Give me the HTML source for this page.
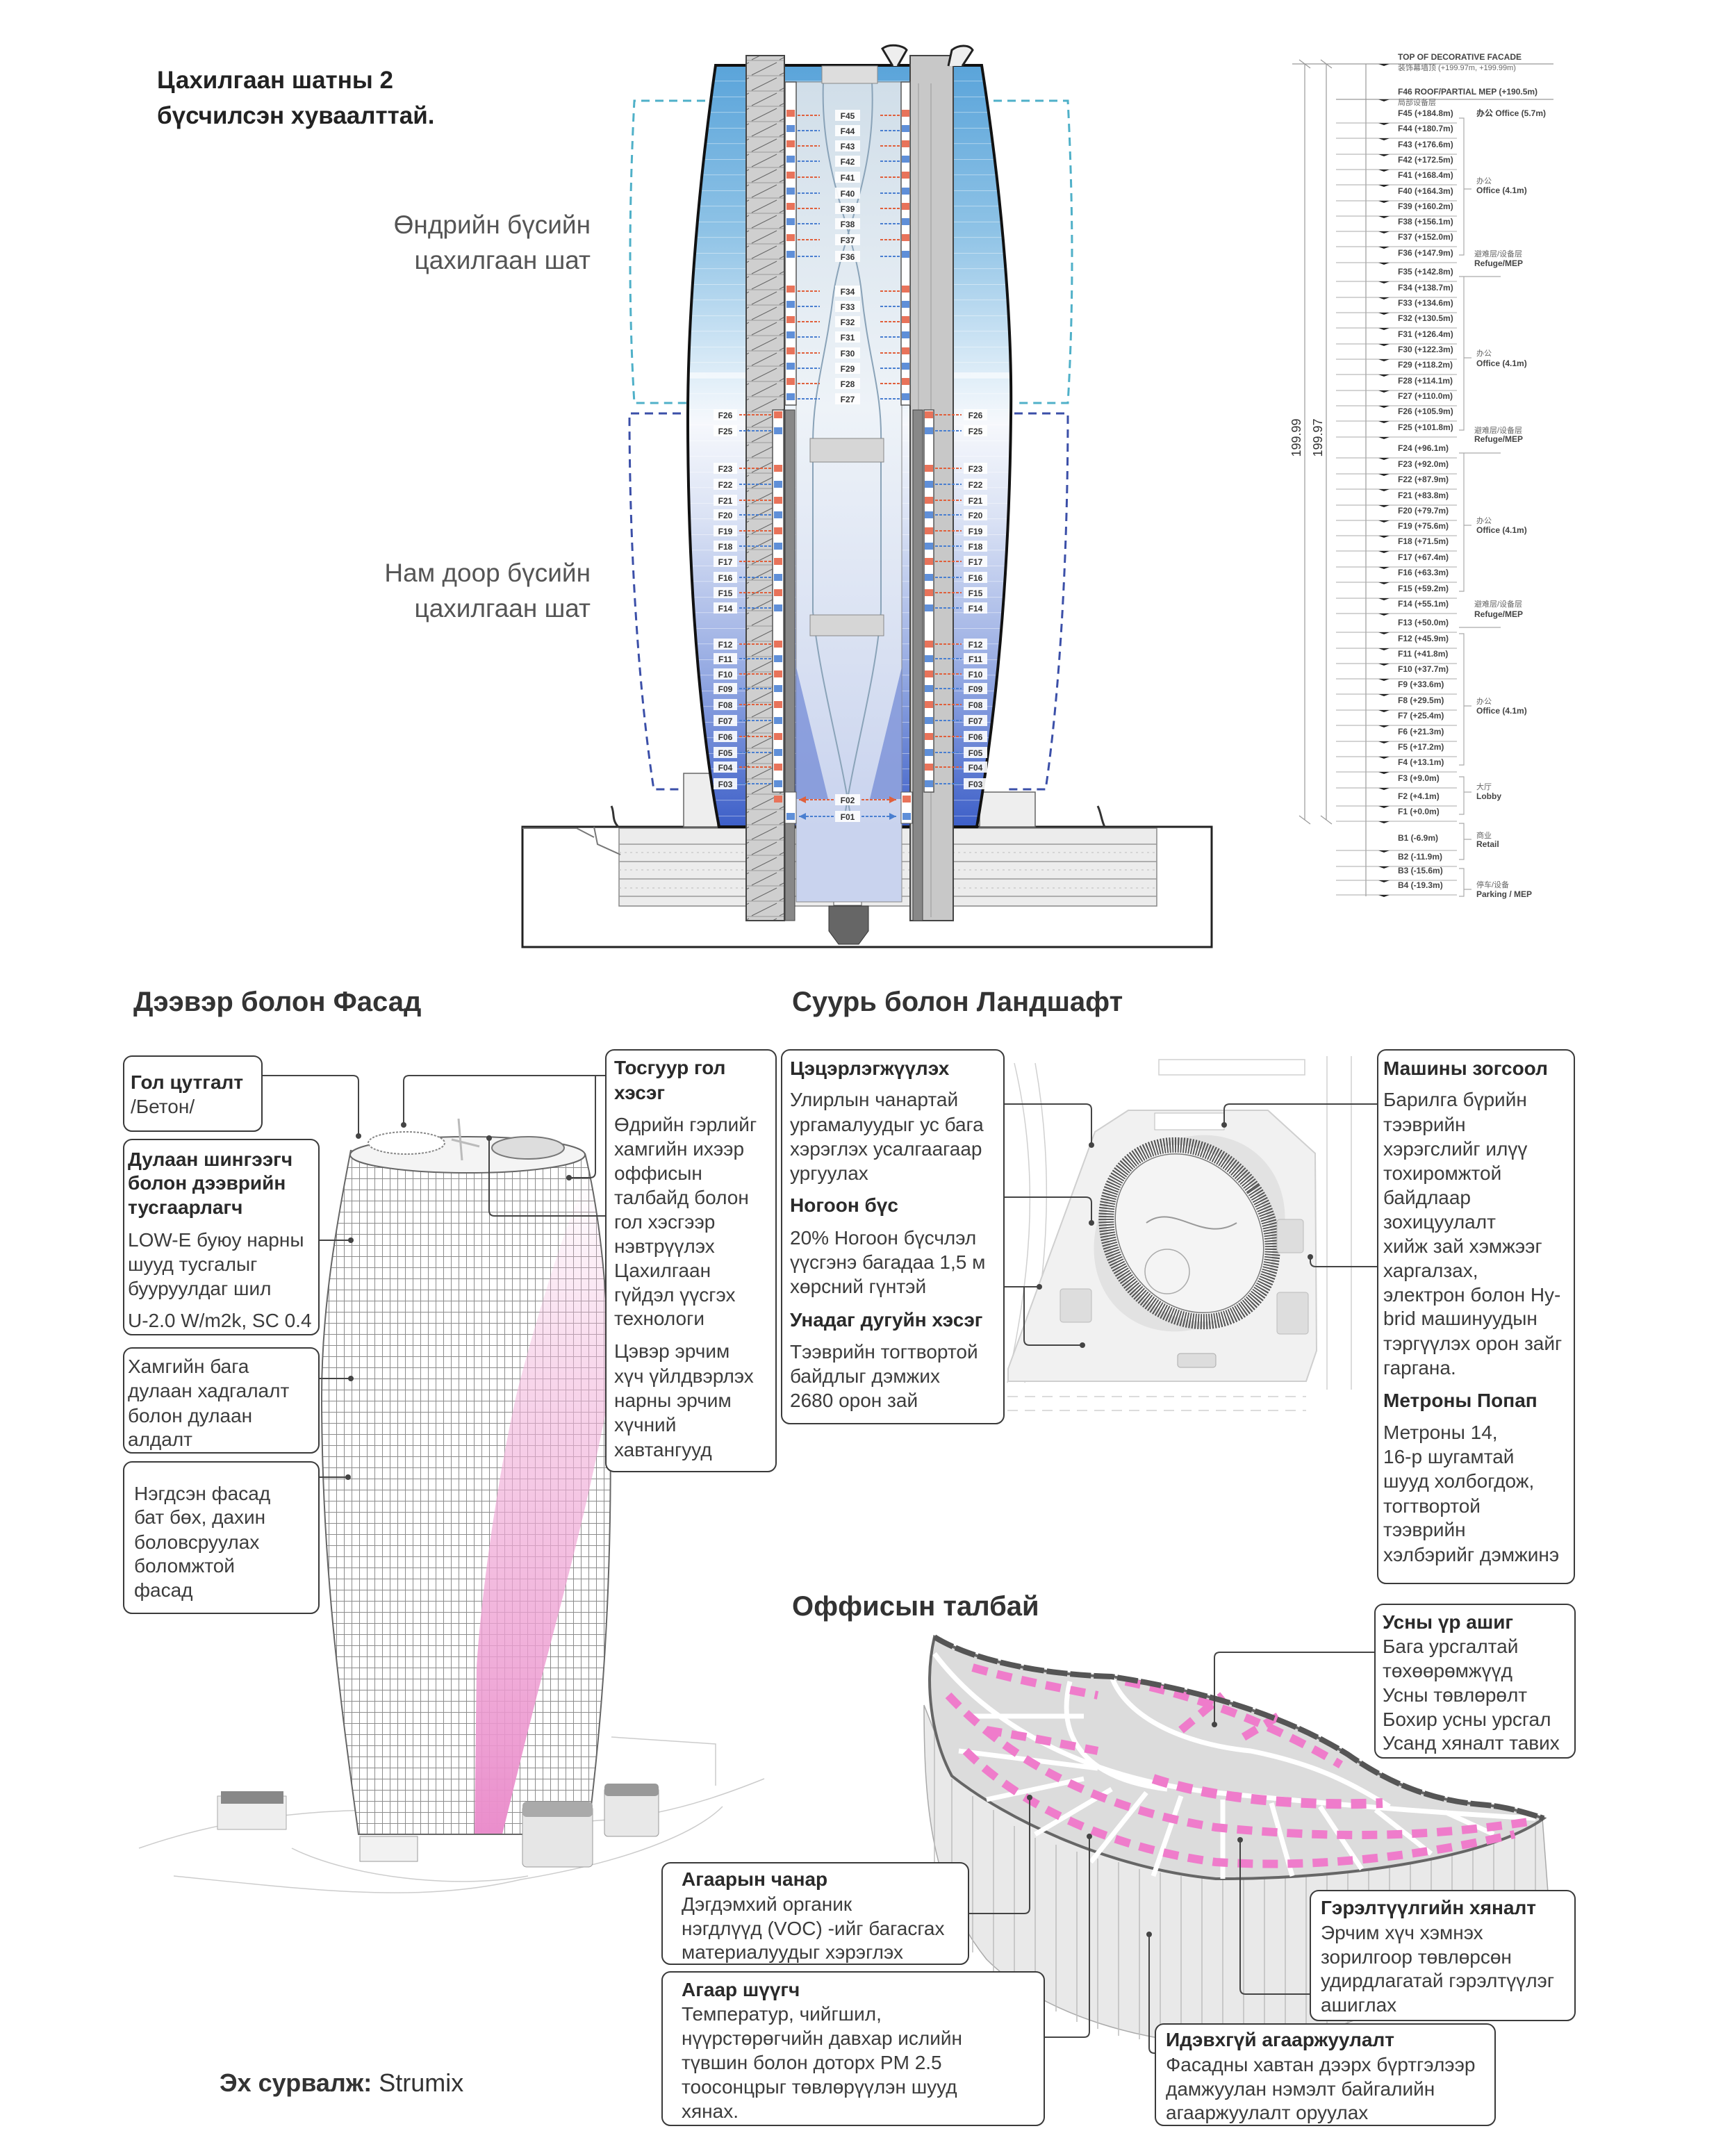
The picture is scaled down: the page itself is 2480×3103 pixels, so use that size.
<!DOCTYPE html>
<html><head><meta charset="utf-8">
<style>
html,body{margin:0;padding:0;background:#fff;}
svg{display:block;}
text{font-family:"Liberation Sans","Noto Sans CJK SC",sans-serif;}
.t{font-size:28px;fill:#3c3c3c;}
.b{font-size:28px;fill:#2a2a2a;font-weight:bold;}
.h{font-size:40px;fill:#333;font-weight:bold;}
.box{fill:#fff;stroke:#3a3a3a;stroke-width:2;}
.cn{fill:none;stroke:#444;stroke-width:2;}
.el{font-size:12px;font-weight:bold;fill:#444;}
.ec{font-size:11px;fill:#666;}
.lb{font-size:12px;font-weight:bold;fill:#333;text-anchor:middle;}
</style></head>
<body>
<svg width="2480" height="3103" viewBox="0 0 2480 3103" xmlns="http://www.w3.org/2000/svg">
<defs>
<linearGradient id="glass" x1="0" y1="94" x2="0" y2="1190" gradientUnits="userSpaceOnUse">
<stop offset="0" stop-color="#5aa4da"/>
<stop offset="0.22" stop-color="#8fc3e6"/>
<stop offset="0.42" stop-color="#e4f0f9"/>
<stop offset="0.47" stop-color="#f6f8fc"/>
<stop offset="0.6" stop-color="#d9e1f4"/>
<stop offset="0.8" stop-color="#94a9e2"/>
<stop offset="1" stop-color="#3d5fc8"/>
</linearGradient>
<linearGradient id="atr" x1="0" y1="94" x2="0" y2="1190" gradientUnits="userSpaceOnUse">
<stop offset="0" stop-color="#cfdde8"/>
<stop offset="0.45" stop-color="#eef3f8"/>
<stop offset="1" stop-color="#c9d3ee"/>
</linearGradient>
<linearGradient id="pink" x1="0" y1="1690" x2="0" y2="2650" gradientUnits="userSpaceOnUse">
<stop offset="0" stop-color="#f3b8dc" stop-opacity="0"/>
<stop offset="0.3" stop-color="#f2b6db" stop-opacity="0.55"/>
<stop offset="1" stop-color="#ea8ccb"/>
</linearGradient>
<pattern id="grid" x="0" y="0" width="11" height="16" patternUnits="userSpaceOnUse">
<rect width="11" height="16" fill="#fff"/>
<path d="M0 0.5H11M0.5 0V16" stroke="#8c8c8c" stroke-width="1"/>
</pattern>
<pattern id="stair" x="0" y="0" width="40" height="22" patternUnits="userSpaceOnUse">
<rect width="40" height="22" fill="#cfcfcf"/>
<path d="M2 20L38 2" stroke="#666" stroke-width="1"/>
<path d="M0 21H40" stroke="#999" stroke-width="1"/>
</pattern>
<pattern id="floors" x="0" y="4" width="10" height="22.5" patternUnits="userSpaceOnUse">
<path d="M0 0H10" stroke="#ffffff" stroke-opacity="0.7" stroke-width="1.2"/>
</pattern>
<clipPath id="tclip"><path d="M1030,94 L1413,94 C1445,300 1457,480 1455,600 C1452,880 1425,1080 1406,1190 L1035,1190 C1014,1080 990,880 990,600 C990,470 1002,290 1030,94 Z"/></clipPath>
<clipPath id="t3"><path d="M505,1655 C485,1760 463,1880 463,2010 C463,2250 490,2450 516,2640 L846,2640 C870,2450 882,2250 878,2010 C875,1860 864,1750 842,1660 Z"/></clipPath>
</defs>

<text x="226" y="127" style="font-size:35px;font-weight:bold;fill:#222">Цахилгаан шатны 2</text>
<text x="226" y="178" style="font-size:35px;font-weight:bold;fill:#222">бүсчилсэн хуваалттай.</text>
<text x="850" y="336" text-anchor="end" style="font-size:37px;fill:#555">Өндрийн бүсийн</text>
<text x="850" y="387" text-anchor="end" style="font-size:37px;fill:#555">цахилгаан шат</text>
<text x="850" y="837" text-anchor="end" style="font-size:37px;fill:#555">Нам доор бүсийн</text>
<text x="850" y="888" text-anchor="end" style="font-size:37px;fill:#555">цахилгаан шат</text>

<path d="M1015,145 H913 C905,300 905,450 913,580 H990" fill="none" stroke="#4fb0c8" stroke-width="3" stroke-dasharray="12 8"/>
<path d="M1430,145 H1537 C1545,300 1545,450 1537,580 H1460" fill="none" stroke="#4fb0c8" stroke-width="3" stroke-dasharray="12 8"/>
<path d="M980,595 H906 C906,800 920,1000 941,1136 H990" fill="none" stroke="#3b4fa8" stroke-width="3" stroke-dasharray="12 8"/>
<path d="M1460,595 H1537 C1537,800 1525,1000 1505,1136 H1450" fill="none" stroke="#3b4fa8" stroke-width="3" stroke-dasharray="12 8"/>

<rect x="752" y="1190" width="992" height="173" fill="#fff" stroke="#222" stroke-width="3"/>
<rect x="891" y="1192" width="774" height="112" fill="#ececec" stroke="#888" stroke-width="1.5"/>
<path d="M891,1215H1665M891,1240H1665M891,1265H1665M891,1290H1665" stroke="#999" stroke-width="1.5"/>
<path d="M891,1227H1665M891,1252H1665M891,1278H1665" stroke="#bbb" stroke-width="1" stroke-dasharray="3 5"/>
<path d="M855,1190 L860,1215 L893,1230 M752,1192 L830,1192 L855,1205" stroke="#777" fill="none" stroke-width="2"/>
<path d="M880,1160 C885,1170 880,1180 890,1190 M1580,1160 C1585,1170 1585,1180 1590,1190" stroke="#333" fill="none" stroke-width="3"/>
<rect x="984" y="1113" width="49" height="77" fill="#eee" stroke="#666" stroke-width="1.5"/>
<rect x="1410" y="1140" width="80" height="50" fill="#eee" stroke="#666" stroke-width="1.5"/>
<polygon points="1193,1304 1250,1304 1250,1340 1236,1359 1207,1359 1193,1340" fill="#666" stroke="#333"/>
<rect x="1200" y="1275" width="40" height="28" fill="#fff" stroke="#555"/>

<path d="M1030,94 L1413,94 C1445,300 1457,480 1455,600 C1452,880 1425,1080 1406,1190 L1035,1190 C1014,1080 990,880 990,600 C990,470 1002,290 1030,94 Z" fill="url(#glass)"/>
<g clip-path="url(#tclip)">
<rect x="980" y="94" width="490" height="1100" fill="url(#floors)"/>
<path d="M990,540 H1460" stroke="#fff" stroke-width="8" opacity="0.6"/>
</g>
<path d="M1030,94 L1413,94 C1445,300 1457,480 1455,600 C1452,880 1425,1080 1406,1190 L1035,1190 C1014,1080 990,880 990,600 C990,470 1002,290 1030,94 Z" fill="none" stroke="#111" stroke-width="4"/>

<rect x="1146" y="118" width="152" height="1180" fill="url(#atr)" stroke="#888" stroke-width="1"/>
<path d="M1185,118 C1180,250 1230,330 1240,420 C1250,520 1270,560 1268,640 L1268,880 C1260,980 1230,1080 1215,1180 M1255,118 C1262,250 1215,330 1200,420 C1188,520 1170,560 1170,640 L1170,880 C1180,980 1210,1080 1225,1180" fill="none" stroke="#8aa3b8" stroke-width="2"/>
<polygon points="1146,960 1192,1150 1146,1150" fill="#6e86d4" opacity="0.7"/>
<polygon points="1298,960 1252,1150 1298,1150" fill="#6e86d4" opacity="0.7"/>
<rect x="1166" y="631" width="106" height="34" fill="#d6d6d6" stroke="#888"/>
<rect x="1166" y="885" width="106" height="30" fill="#d6d6d6" stroke="#888"/>
<rect x="1183" y="95" width="80" height="25" fill="#ddd" stroke="#888"/>

<rect x="1074" y="80" width="55" height="1245" fill="url(#stair)" stroke="#444" stroke-width="2"/>
<rect x="1310" y="80" width="62" height="1245" fill="#c8c8c8" stroke="#444" stroke-width="2"/>
<path d="M1322,120V1320 M1340,120V1320" stroke="#999" stroke-width="1"/>
<rect x="1130" y="118" width="16" height="465" fill="#fff" stroke="#555" stroke-width="1.5"/>
<rect x="1297" y="118" width="13" height="465" fill="#fff" stroke="#555" stroke-width="1.5"/>
<rect x="1112" y="590" width="16" height="550" fill="#fff" stroke="#555" stroke-width="1.5"/>
<rect x="1130" y="590" width="14" height="735" fill="#888" stroke="#444" stroke-width="1"/>
<rect x="1314" y="590" width="14" height="735" fill="#888" stroke="#444" stroke-width="1"/>
<rect x="1330" y="590" width="14" height="550" fill="#fff" stroke="#555" stroke-width="1.5"/>
<rect x="1130" y="1140" width="16" height="45" fill="#fff" stroke="#555"/>
<rect x="1297" y="1140" width="16" height="45" fill="#fff" stroke="#555"/>
<path d="M1285,95 L1270,70 C1280,62 1300,65 1305,72 L1292,95 M1365,95 L1370,72 C1380,64 1395,64 1400,72 L1385,95" fill="#eee" stroke="#222" stroke-width="3"/>

<g fill="#e8735a"><rect x="1132" y="158" width="12" height="10"/><rect x="1132" y="202" width="12" height="10"/><rect x="1132" y="247" width="12" height="10"/><rect x="1132" y="292" width="12" height="10"/><rect x="1132" y="337" width="12" height="10"/><rect x="1132" y="411" width="12" height="10"/><rect x="1132" y="455" width="12" height="10"/><rect x="1132" y="500" width="12" height="10"/><rect x="1132" y="544" width="12" height="10"/>
<rect x="1298" y="158" width="11" height="10"/><rect x="1298" y="202" width="11" height="10"/><rect x="1298" y="247" width="11" height="10"/><rect x="1298" y="292" width="11" height="10"/><rect x="1298" y="337" width="11" height="10"/><rect x="1298" y="411" width="11" height="10"/><rect x="1298" y="455" width="11" height="10"/><rect x="1298" y="500" width="11" height="10"/><rect x="1298" y="544" width="11" height="10"/></g>
<g fill="#5f8fd8"><rect x="1132" y="180" width="12" height="10"/><rect x="1132" y="224" width="12" height="10"/><rect x="1132" y="270" width="12" height="10"/><rect x="1132" y="314" width="12" height="10"/><rect x="1132" y="361" width="12" height="10"/><rect x="1132" y="433" width="12" height="10"/><rect x="1132" y="477" width="12" height="10"/><rect x="1132" y="522" width="12" height="10"/><rect x="1132" y="566" width="12" height="10"/>
<rect x="1298" y="180" width="11" height="10"/><rect x="1298" y="224" width="11" height="10"/><rect x="1298" y="270" width="11" height="10"/><rect x="1298" y="314" width="11" height="10"/><rect x="1298" y="361" width="11" height="10"/><rect x="1298" y="433" width="11" height="10"/><rect x="1298" y="477" width="11" height="10"/><rect x="1298" y="522" width="11" height="10"/><rect x="1298" y="566" width="11" height="10"/></g>
<g fill="#e8735a">
<rect x="1114" y="592" width="12" height="10"/><rect x="1114" y="669" width="12" height="10"/><rect x="1114" y="715" width="12" height="10"/><rect x="1114" y="759" width="12" height="10"/><rect x="1114" y="803" width="12" height="10"/><rect x="1114" y="848" width="12" height="10"/><rect x="1114" y="922" width="12" height="10"/><rect x="1114" y="965" width="12" height="10"/><rect x="1114" y="1009" width="12" height="10"/><rect x="1114" y="1055" width="12" height="10"/><rect x="1114" y="1099" width="12" height="10"/><rect x="1114" y="1145" width="12" height="10"/>
<rect x="1331" y="592" width="12" height="10"/><rect x="1331" y="669" width="12" height="10"/><rect x="1331" y="715" width="12" height="10"/><rect x="1331" y="759" width="12" height="10"/><rect x="1331" y="803" width="12" height="10"/><rect x="1331" y="848" width="12" height="10"/><rect x="1331" y="922" width="12" height="10"/><rect x="1331" y="965" width="12" height="10"/><rect x="1331" y="1009" width="12" height="10"/><rect x="1331" y="1055" width="12" height="10"/><rect x="1331" y="1099" width="12" height="10"/><rect x="1299" y="1145" width="12" height="10"/>
</g>
<g fill="#5f8fd8">
<rect x="1114" y="615" width="12" height="10"/><rect x="1114" y="692" width="12" height="10"/><rect x="1114" y="736" width="12" height="10"/><rect x="1114" y="781" width="12" height="10"/><rect x="1114" y="826" width="12" height="10"/><rect x="1114" y="870" width="12" height="10"/><rect x="1114" y="943" width="12" height="10"/><rect x="1114" y="986" width="12" height="10"/><rect x="1114" y="1032" width="12" height="10"/><rect x="1114" y="1078" width="12" height="10"/><rect x="1114" y="1123" width="12" height="10"/><rect x="1132" y="1170" width="12" height="10"/>
<rect x="1331" y="615" width="12" height="10"/><rect x="1331" y="692" width="12" height="10"/><rect x="1331" y="736" width="12" height="10"/><rect x="1331" y="781" width="12" height="10"/><rect x="1331" y="826" width="12" height="10"/><rect x="1331" y="870" width="12" height="10"/><rect x="1331" y="943" width="12" height="10"/><rect x="1331" y="986" width="12" height="10"/><rect x="1331" y="1032" width="12" height="10"/><rect x="1331" y="1078" width="12" height="10"/><rect x="1331" y="1123" width="12" height="10"/><rect x="1299" y="1170" width="12" height="10"/>
</g>

<g stroke-width="2" stroke-dasharray="4 2" fill="none">
<path stroke="#e0603c" d="M1148,166H1180M1148,210H1180M1148,255H1180M1148,300H1180M1148,345H1180M1148,419H1180M1148,463H1180M1148,508H1180M1148,552H1180 M1295,166H1265M1295,210H1265M1295,255H1265M1295,300H1265M1295,345H1265M1295,419H1265M1295,463H1265M1295,508H1265M1295,552H1265"/>
<path stroke="#4a7fd0" d="M1148,188H1180M1148,232H1180M1148,278H1180M1148,322H1180M1148,369H1180M1148,441H1180M1148,485H1180M1148,530H1180M1148,574H1180 M1295,188H1265M1295,232H1265M1295,278H1265M1295,322H1265M1295,369H1265M1295,441H1265M1295,485H1265M1295,530H1265M1295,574H1265"/>
<path stroke="#e0603c" d="M1110,597H1064M1110,674H1064M1110,720H1064M1110,764H1064M1110,808H1064M1110,853H1064M1110,927H1064M1110,970H1064M1110,1014H1064M1110,1060H1064M1110,1104H1064 M1346,597H1384M1346,674H1384M1346,720H1384M1346,764H1384M1346,808H1384M1346,853H1384M1346,927H1384M1346,970H1384M1346,1014H1384M1346,1060H1384M1346,1104H1384 M1200,1151H1150M1240,1151H1290"/>
<path stroke="#4a7fd0" d="M1110,620H1064M1110,697H1064M1110,741H1064M1110,786H1064M1110,831H1064M1110,875H1064M1110,948H1064M1110,991H1064M1110,1037H1064M1110,1083H1064M1110,1128H1064 M1346,620H1384M1346,697H1384M1346,741H1384M1346,786H1384M1346,831H1384M1346,875H1384M1346,948H1384M1346,991H1384M1346,1037H1384M1346,1083H1384M1346,1128H1384 M1200,1175H1150M1240,1175H1290"/>
</g>
<path d="M1150,1151 l10,-5 v10z" fill="#e0603c"/><path d="M1290,1151 l-10,-5 v10z" fill="#e0603c"/>
<path d="M1150,1175 l10,-5 v10z" fill="#4a7fd0"/><path d="M1290,1175 l-10,-5 v10z" fill="#4a7fd0"/>

<g fill="#fff" opacity="0.9">
<rect x="1202" y="158" width="36" height="16"/><rect x="1202" y="180" width="36" height="16"/><rect x="1202" y="202" width="36" height="16"/><rect x="1202" y="224" width="36" height="16"/><rect x="1202" y="247" width="36" height="16"/><rect x="1202" y="270" width="36" height="16"/><rect x="1202" y="292" width="36" height="16"/><rect x="1202" y="314" width="36" height="16"/><rect x="1202" y="337" width="36" height="16"/><rect x="1202" y="361" width="36" height="16"/><rect x="1202" y="411" width="36" height="16"/><rect x="1202" y="433" width="36" height="16"/><rect x="1202" y="455" width="36" height="16"/><rect x="1202" y="477" width="36" height="16"/><rect x="1202" y="500" width="36" height="16"/><rect x="1202" y="522" width="36" height="16"/><rect x="1202" y="544" width="36" height="16"/><rect x="1202" y="566" width="36" height="16"/><rect x="1202" y="1143" width="36" height="16"/><rect x="1202" y="1167" width="36" height="16"/>
</g>
<text class="lb" x="1220" y="171">F45</text><text class="lb" x="1220" y="193">F44</text><text class="lb" x="1220" y="215">F43</text><text class="lb" x="1220" y="237">F42</text><text class="lb" x="1220" y="260">F41</text><text class="lb" x="1220" y="283">F40</text><text class="lb" x="1220" y="305">F39</text><text class="lb" x="1220" y="327">F38</text><text class="lb" x="1220" y="350">F37</text><text class="lb" x="1220" y="374">F36</text><text class="lb" x="1220" y="424">F34</text><text class="lb" x="1220" y="446">F33</text><text class="lb" x="1220" y="468">F32</text><text class="lb" x="1220" y="490">F31</text><text class="lb" x="1220" y="513">F30</text><text class="lb" x="1220" y="535">F29</text><text class="lb" x="1220" y="557">F28</text><text class="lb" x="1220" y="579">F27</text><text class="lb" x="1220" y="1156">F02</text><text class="lb" x="1220" y="1180">F01</text>
<g fill="#fff" opacity="0.9">
<rect x="1027" y="589" width="34" height="16"/><rect x="1027" y="612" width="34" height="16"/><rect x="1027" y="666" width="34" height="16"/><rect x="1027" y="689" width="34" height="16"/><rect x="1027" y="712" width="34" height="16"/><rect x="1027" y="733" width="34" height="16"/><rect x="1027" y="756" width="34" height="16"/><rect x="1027" y="778" width="34" height="16"/><rect x="1027" y="800" width="34" height="16"/><rect x="1027" y="823" width="34" height="16"/><rect x="1027" y="845" width="34" height="16"/><rect x="1027" y="867" width="34" height="16"/><rect x="1027" y="919" width="34" height="16"/><rect x="1027" y="940" width="34" height="16"/><rect x="1027" y="962" width="34" height="16"/><rect x="1027" y="983" width="34" height="16"/><rect x="1027" y="1006" width="34" height="16"/><rect x="1027" y="1029" width="34" height="16"/><rect x="1027" y="1052" width="34" height="16"/><rect x="1027" y="1075" width="34" height="16"/><rect x="1027" y="1096" width="34" height="16"/><rect x="1027" y="1120" width="34" height="16"/>
<rect x="1387" y="589" width="34" height="16"/><rect x="1387" y="612" width="34" height="16"/><rect x="1387" y="666" width="34" height="16"/><rect x="1387" y="689" width="34" height="16"/><rect x="1387" y="712" width="34" height="16"/><rect x="1387" y="733" width="34" height="16"/><rect x="1387" y="756" width="34" height="16"/><rect x="1387" y="778" width="34" height="16"/><rect x="1387" y="800" width="34" height="16"/><rect x="1387" y="823" width="34" height="16"/><rect x="1387" y="845" width="34" height="16"/><rect x="1387" y="867" width="34" height="16"/><rect x="1387" y="919" width="34" height="16"/><rect x="1387" y="940" width="34" height="16"/><rect x="1387" y="962" width="34" height="16"/><rect x="1387" y="983" width="34" height="16"/><rect x="1387" y="1006" width="34" height="16"/><rect x="1387" y="1029" width="34" height="16"/><rect x="1387" y="1052" width="34" height="16"/><rect x="1387" y="1075" width="34" height="16"/><rect x="1387" y="1096" width="34" height="16"/><rect x="1387" y="1120" width="34" height="16"/>
</g>
<text class="lb" x="1044" y="602">F26</text><text class="lb" x="1044" y="625">F25</text><text class="lb" x="1044" y="679">F23</text><text class="lb" x="1044" y="702">F22</text><text class="lb" x="1044" y="725">F21</text><text class="lb" x="1044" y="746">F20</text><text class="lb" x="1044" y="769">F19</text><text class="lb" x="1044" y="791">F18</text><text class="lb" x="1044" y="813">F17</text><text class="lb" x="1044" y="836">F16</text><text class="lb" x="1044" y="858">F15</text><text class="lb" x="1044" y="880">F14</text><text class="lb" x="1044" y="932">F12</text><text class="lb" x="1044" y="953">F11</text><text class="lb" x="1044" y="975">F10</text><text class="lb" x="1044" y="996">F09</text><text class="lb" x="1044" y="1019">F08</text><text class="lb" x="1044" y="1042">F07</text><text class="lb" x="1044" y="1065">F06</text><text class="lb" x="1044" y="1088">F05</text><text class="lb" x="1044" y="1109">F04</text><text class="lb" x="1044" y="1133">F03</text>
<text class="lb" x="1404" y="602">F26</text><text class="lb" x="1404" y="625">F25</text><text class="lb" x="1404" y="679">F23</text><text class="lb" x="1404" y="702">F22</text><text class="lb" x="1404" y="725">F21</text><text class="lb" x="1404" y="746">F20</text><text class="lb" x="1404" y="769">F19</text><text class="lb" x="1404" y="791">F18</text><text class="lb" x="1404" y="813">F17</text><text class="lb" x="1404" y="836">F16</text><text class="lb" x="1404" y="858">F15</text><text class="lb" x="1404" y="880">F14</text><text class="lb" x="1404" y="932">F12</text><text class="lb" x="1404" y="953">F11</text><text class="lb" x="1404" y="975">F10</text><text class="lb" x="1404" y="996">F09</text><text class="lb" x="1404" y="1019">F08</text><text class="lb" x="1404" y="1042">F07</text><text class="lb" x="1404" y="1065">F06</text><text class="lb" x="1404" y="1088">F05</text><text class="lb" x="1404" y="1109">F04</text><text class="lb" x="1404" y="1133">F03</text>

<g stroke="#999" stroke-width="1.2" fill="none">
<path d="M1878,92V1180 M1909,92V1180 M1966,92V1290"/>
<path d="M1870,86L1886,98 M1901,86L1917,98 M1870,1174L1886,1186 M1901,1174L1917,1186"/>
<path d="M1860,92H2236 M1923,143H2236"/>
</g>
<text x="1872" y="630" transform="rotate(-90 1872 630)" text-anchor="middle" style="font-size:18px;fill:#333">199.99</text>
<text x="1903" y="630" transform="rotate(-90 1903 630)" text-anchor="middle" style="font-size:18px;fill:#333">199.97</text>
<text class="el" x="2012" y="86">TOP OF DECORATIVE FACADE</text>
<text class="ec" x="2012" y="101">装饰幕墙顶 (+199.97m, +199.99m)</text>
<text class="el" x="2012" y="136">F46 ROOF/PARTIAL MEP (+190.5m)</text>
<text class="ec" x="2012" y="151">局部设备层</text>
<g stroke="#aaa" stroke-width="1">
<path d="M1923,177H2097M1923,199H2097M1923,222H2097M1923,244H2097M1923,266H2097M1923,289H2097M1923,311H2097M1923,333H2097M1923,355H2097M1923,378H2097M1923,405H2097M1923,428H2097M1923,450H2097M1923,472H2097M1923,495H2097M1923,517H2097M1923,539H2097M1923,562H2097M1923,584H2097M1923,606H2097M1923,629H2097M1923,659H2097M1923,682H2097M1923,704H2097M1923,727H2097M1923,749H2097M1923,771H2097M1923,793H2097M1923,816H2097M1923,838H2097M1923,861H2097M1923,883H2097M1923,910H2097M1923,933H2097M1923,955H2097M1923,977H2097M1923,999H2097M1923,1022H2097M1923,1044H2097M1923,1067H2097M1923,1089H2097M1923,1111H2097M1923,1134H2097M1923,1160H2097M1923,1182H2097M1923,1224H2097M1923,1247H2097M1923,1267H2097M1923,1288H2097"/>
</g>
<g fill="#222">
<path d="M1984,92h16l-8,3z M1984,143h16l-8,3z M1984,177h16l-8,3z M1984,199h16l-8,3z M1984,222h16l-8,3z M1984,244h16l-8,3z M1984,266h16l-8,3z M1984,289h16l-8,3z M1984,311h16l-8,3z M1984,333h16l-8,3z M1984,355h16l-8,3z M1984,378h16l-8,3z M1984,405h16l-8,3z M1984,428h16l-8,3z M1984,450h16l-8,3z M1984,472h16l-8,3z M1984,495h16l-8,3z M1984,517h16l-8,3z M1984,539h16l-8,3z M1984,562h16l-8,3z M1984,584h16l-8,3z M1984,606h16l-8,3z M1984,629h16l-8,3z M1984,659h16l-8,3z M1984,682h16l-8,3z M1984,704h16l-8,3z M1984,727h16l-8,3z M1984,749h16l-8,3z M1984,771h16l-8,3z M1984,793h16l-8,3z M1984,816h16l-8,3z M1984,838h16l-8,3z M1984,861h16l-8,3z M1984,883h16l-8,3z M1984,910h16l-8,3z M1984,933h16l-8,3z M1984,955h16l-8,3z M1984,977h16l-8,3z M1984,999h16l-8,3z M1984,1022h16l-8,3z M1984,1044h16l-8,3z M1984,1067h16l-8,3z M1984,1089h16l-8,3z M1984,1111h16l-8,3z M1984,1134h16l-8,3z M1984,1160h16l-8,3z M1984,1182h16l-8,3z M1984,1224h16l-8,3z M1984,1247h16l-8,3z M1984,1267h16l-8,3z M1984,1288h16l-8,3z"/>
</g>
<text class="el" x="2012" y="167">F45 (+184.8m)</text><text class="el" x="2012" y="189">F44 (+180.7m)</text><text class="el" x="2012" y="212">F43 (+176.6m)</text><text class="el" x="2012" y="234">F42 (+172.5m)</text><text class="el" x="2012" y="256">F41 (+168.4m)</text><text class="el" x="2012" y="279">F40 (+164.3m)</text><text class="el" x="2012" y="301">F39 (+160.2m)</text><text class="el" x="2012" y="323">F38 (+156.1m)</text><text class="el" x="2012" y="345">F37 (+152.0m)</text><text class="el" x="2012" y="368">F36 (+147.9m)</text><text class="el" x="2012" y="395">F35 (+142.8m)</text><text class="el" x="2012" y="418">F34 (+138.7m)</text><text class="el" x="2012" y="440">F33 (+134.6m)</text><text class="el" x="2012" y="462">F32 (+130.5m)</text><text class="el" x="2012" y="485">F31 (+126.4m)</text><text class="el" x="2012" y="507">F30 (+122.3m)</text><text class="el" x="2012" y="529">F29 (+118.2m)</text><text class="el" x="2012" y="552">F28 (+114.1m)</text><text class="el" x="2012" y="574">F27 (+110.0m)</text><text class="el" x="2012" y="596">F26 (+105.9m)</text><text class="el" x="2012" y="619">F25 (+101.8m)</text><text class="el" x="2012" y="649">F24 (+96.1m)</text><text class="el" x="2012" y="672">F23 (+92.0m)</text><text class="el" x="2012" y="694">F22 (+87.9m)</text><text class="el" x="2012" y="717">F21 (+83.8m)</text><text class="el" x="2012" y="739">F20 (+79.7m)</text><text class="el" x="2012" y="761">F19 (+75.6m)</text><text class="el" x="2012" y="783">F18 (+71.5m)</text><text class="el" x="2012" y="806">F17 (+67.4m)</text><text class="el" x="2012" y="828">F16 (+63.3m)</text><text class="el" x="2012" y="851">F15 (+59.2m)</text><text class="el" x="2012" y="873">F14 (+55.1m)</text><text class="el" x="2012" y="900">F13 (+50.0m)</text><text class="el" x="2012" y="923">F12 (+45.9m)</text><text class="el" x="2012" y="945">F11 (+41.8m)</text><text class="el" x="2012" y="967">F10 (+37.7m)</text><text class="el" x="2012" y="989">F9 (+33.6m)</text><text class="el" x="2012" y="1012">F8 (+29.5m)</text><text class="el" x="2012" y="1034">F7 (+25.4m)</text><text class="el" x="2012" y="1057">F6 (+21.3m)</text><text class="el" x="2012" y="1079">F5 (+17.2m)</text><text class="el" x="2012" y="1101">F4 (+13.1m)</text><text class="el" x="2012" y="1124">F3 (+9.0m)</text><text class="el" x="2012" y="1150">F2 (+4.1m)</text><text class="el" x="2012" y="1172">F1 (+0.0m)</text><text class="el" x="2012" y="1210">B1 (-6.9m)</text><text class="el" x="2012" y="1237">B2 (-11.9m)</text><text class="el" x="2012" y="1257">B3 (-15.6m)</text><text class="el" x="2012" y="1278">B4 (-19.3m)</text>
<g stroke="#aaa" stroke-width="1.2" fill="none">
<path d="M2100,170H2107V367H2100 M2107,272H2118"/>
<path d="M2100,398H2107V619H2100 M2107,515H2118 M2100,398H2160"/>
<path d="M2100,652H2107V851H2100 M2107,756H2118 M2100,652H2160"/>
<path d="M2100,903H2160 M2100,912H2107V1101H2100 M2107,1016H2118"/>
<path d="M2100,1118H2107V1172H2100 M2107,1140H2118"/>
<path d="M2100,1185H2107V1237H2100 M2107,1208H2118"/>
<path d="M2100,1250H2107V1290H2100 M2107,1280H2118"/>
</g>
<text class="el" x="2125" y="167">办公 Office (5.7m)</text>
<text class="ec" x="2125" y="264">办公</text><text class="el" x="2125" y="278">Office (4.1m)</text>
<text class="ec" x="2122" y="369">避难层/设备层</text><text class="el" x="2122" y="383">Refuge/MEP</text>
<text class="ec" x="2125" y="512">办公</text><text class="el" x="2125" y="527">Office (4.1m)</text>
<text class="ec" x="2122" y="623">避难层/设备层</text><text class="el" x="2122" y="636">Refuge/MEP</text>
<text class="ec" x="2125" y="753">办公</text><text class="el" x="2125" y="767">Office (4.1m)</text>
<text class="ec" x="2122" y="873">避难层/设备层</text><text class="el" x="2122" y="888">Refuge/MEP</text>
<text class="ec" x="2125" y="1013">办公</text><text class="el" x="2125" y="1027">Office (4.1m)</text>
<text class="ec" x="2125" y="1136">大厅</text><text class="el" x="2125" y="1150">Lobby</text>
<text class="ec" x="2125" y="1206">商业</text><text class="el" x="2125" y="1219">Retail</text>
<text class="ec" x="2125" y="1277">停车/设备</text><text class="el" x="2125" y="1291">Parking / MEP</text>

<text class="h" x="192" y="1455">Дээвэр болон Фасад</text>
<text class="h" x="1140" y="1455">Суурь болон Ландшафт</text>
<text class="h" x="1140" y="2325">Оффисын талбай</text>
<text x="316" y="3010" style="font-size:36px;fill:#333"><tspan font-weight="bold">Эх сурвалж:</tspan> Strumix</text>

<g stroke="#ccc" stroke-width="1.5" fill="none">
<path d="M200,2660 C400,2590 600,2600 760,2620 C900,2630 1000,2600 1100,2560"/>
<path d="M250,2700 C450,2720 600,2740 750,2705 C900,2680 1000,2640 1040,2600"/>
<path d="M420,2660 C500,2700 650,2720 760,2700"/>
<path d="M880,2500 L1030,2510 L1030,2570"/>
</g>
<rect x="313" y="2585" width="99" height="48" fill="#eee" stroke="#aaa"/>
<rect x="318" y="2578" width="90" height="18" fill="#888"/>
<rect x="518" y="2643" width="83" height="36" fill="#f2f2f2" stroke="#999"/>
<g clip-path="url(#t3)">
<rect x="440" y="1630" width="460" height="1020" fill="url(#grid)"/>
<path d="M845,1690 C825,1740 790,1830 745,2000 C715,2130 692,2300 686,2400 L683,2640 L723,2640 C745,2550 770,2450 790,2375 C820,2260 850,2150 878,2000 L878,1690 Z" fill="url(#pink)"/>
</g>
<path d="M505,1655 C485,1760 463,1880 463,2010 C463,2250 490,2450 516,2640 L846,2640 C870,2450 882,2250 878,2010 C875,1860 864,1750 842,1660" fill="none" stroke="#666" stroke-width="2"/>
<ellipse cx="673" cy="1662" rx="169" ry="26" fill="#f4f4f4" stroke="#666" stroke-width="2"/>
<ellipse cx="585" cy="1645" rx="55" ry="16" fill="#fff" stroke="#888" stroke-width="2" stroke-dasharray="3 2"/>
<ellipse cx="760" cy="1652" rx="52" ry="16" fill="#ddd" stroke="#777" stroke-width="2"/>
<path d="M660,1610 L665,1670 M650,1640 L690,1650" stroke="#bbb" stroke-width="3"/>
<rect x="752" y="2598" width="101" height="89" rx="6" fill="#e6e6e6" stroke="#999"/>
<rect x="752" y="2593" width="101" height="22" rx="6" fill="#aaa"/>
<rect x="870" y="2572" width="78" height="71" rx="5" fill="#e8e8e8" stroke="#999"/>
<rect x="870" y="2567" width="78" height="18" rx="5" fill="#999"/>

<g stroke="#d0d0d0" stroke-width="1.5" fill="none">
<path d="M1460,1530 C1500,1700 1480,1850 1450,1990"/>
<path d="M1490,1530 C1520,1700 1505,1850 1475,1990"/>
<path d="M1910,1520 V2000 M1945,1520 V2000"/>
<path d="M1450,2010 H1880 M1450,2030 H1880" stroke-dasharray="15 10"/>
<rect x="1668" y="1525" width="210" height="22"/>
</g>
<path d="M1624,1598 L1825,1598 L1893,1660 L1895,1944 L1880,1988 L1451,1988 L1451,1970 L1576,1629 Z" fill="#f1f1f1" stroke="#cfcfcf" stroke-width="2"/>
<ellipse cx="1712" cy="1775" rx="150" ry="128" transform="rotate(-50 1712 1775)" fill="#e2e2e2" stroke="none"/>
<ellipse cx="1712" cy="1775" rx="112" ry="134" transform="rotate(-35 1712 1775)" fill="#fafafa" stroke="#555" stroke-width="22" stroke-dasharray="2 2"/>
<ellipse cx="1712" cy="1775" rx="99" ry="121" transform="rotate(-35 1712 1775)" fill="#f4f4f4" stroke="#777" stroke-width="1.5"/>
<path d="M1650,1760 C1690,1730 1730,1790 1780,1760" stroke="#999" fill="none" stroke-width="2"/>
<circle cx="1680" cy="1830" r="32" fill="none" stroke="#aaa" stroke-width="1.5"/>
<rect x="1526" y="1855" width="45" height="48" rx="4" fill="#ddd" stroke="#bbb"/>
<rect x="1838" y="1755" width="38" height="48" rx="4" fill="#ddd" stroke="#bbb"/>
<rect x="1838" y="1860" width="45" height="60" rx="4" fill="#ddd" stroke="#bbb"/>
<rect x="1662" y="1602" width="100" height="24" fill="#fff" stroke="#bbb"/>
<rect x="1695" y="1948" width="55" height="20" rx="4" fill="#ddd" stroke="#aaa"/>

<path d="M1330,2454 C1330,2600 1340,2720 1420,2820 C1500,2900 1650,2945 1800,2945 C1950,2930 2100,2840 2230,2750 L2220,2617 C2100,2680 1900,2705 1750,2704 C1600,2690 1470,2630 1370,2556 Z" fill="#e9e9e9" stroke="#aaa" stroke-width="1.5"/>
<g stroke="#bdbdbd" stroke-width="1.5">
<path d="M1345,2460V2700 M1370,2560V2770 M1400,2585V2810 M1430,2605V2840 M1460,2628V2860 M1490,2645V2880 M1520,2655V2895 M1550,2665V2910 M1580,2675V2920 M1610,2680V2930 M1640,2690V2935 M1670,2695V2940 M1700,2700V2942 M1730,2703V2944 M1760,2704V2944 M1790,2704V2944 M1820,2703V2942 M1850,2702V2935 M1880,2700V2928 M1910,2698V2920 M1940,2695V2910 M1970,2690V2898 M2000,2685V2885 M2030,2680V2870 M2060,2675V2855 M2090,2665V2838 M2120,2655V2820 M2150,2645V2800 M2180,2635V2780 M2210,2622V2760"/>
</g>
<path d="M1345,2356 C1400,2390 1500,2410 1600,2413 C1730,2433 1850,2469 1940,2525 C1990,2560 2050,2590 2130,2597 C2170,2600 2200,2610 2222,2617 C2150,2670 1950,2705 1750,2704 C1600,2690 1450,2620 1370,2556 C1340,2500 1330,2420 1345,2356 Z" fill="#dcdcdc" stroke="#666" stroke-width="4"/>
<g fill="none" stroke="#fff" stroke-width="7">
<path d="M1345,2380 C1420,2480 1560,2560 1750,2580 C1950,2600 2080,2610 2210,2617"/>
<path d="M1540,2420 C1520,2500 1560,2560 1680,2575"/>
<path d="M1400,2470 L1560,2470 M1380,2520 L1580,2545 M1420,2590 L1560,2560 M1490,2640 L1600,2575 M1570,2680 L1650,2580 M1660,2700 L1700,2585 M1760,2704 L1760,2590 M1860,2700 L1830,2595 M1960,2690 L1900,2600 M2060,2668 L1980,2605 M2150,2640 L2080,2608"/>
<path d="M1600,2413 C1620,2470 1700,2510 1800,2520 C1900,2540 1950,2570 2000,2600"/>
</g>
<g fill="none" stroke="#ef7ccb" stroke-width="12" stroke-dasharray="22 14">
<path d="M1365,2440 C1440,2520 1560,2600 1750,2630 C1950,2650 2080,2640 2200,2622"/>
<path d="M1390,2520 C1470,2600 1600,2660 1750,2680 C1900,2690 2050,2670 2180,2640"/>
<path d="M1400,2400 C1470,2420 1530,2430 1580,2440"/>
<path d="M1420,2490 C1480,2500 1530,2510 1580,2520"/>
<path d="M1620,2420 C1720,2440 1830,2480 1930,2540"/>
<path d="M1660,2560 C1750,2590 1880,2600 1990,2595" stroke-width="14"/>
<path d="M1700,2490 L1760,2440 M1790,2500 L1840,2470"/>
</g>
<path d="M1345,2356 C1400,2390 1500,2410 1600,2413 C1730,2433 1850,2469 1940,2525 C1990,2560 2050,2590 2130,2597 C2170,2600 2200,2610 2222,2617" fill="none" stroke="#555" stroke-width="8" stroke-dasharray="30 4"/>

<g class="cn">
<path d="M376,1548 H508 Q516,1548 516,1556 V1635"/>
<path d="M872,1548 H589 Q581,1548 581,1556 V1619"/>
<path d="M857,1548 V1687 Q857,1695 849,1695 H819"/>
<path d="M872,1750 H712 Q704,1750 704,1742 V1638"/>
<path d="M459,1785 H505"/>
<path d="M459,1984 H505"/>
<path d="M459,2126 H501"/>
<path d="M1445,1589 H1563 Q1571,1589 1571,1597 V1648"/>
<path d="M1445,1723 H1563 Q1571,1723 1571,1731 V1760"/>
<path d="M1445,1852 H1496 M1474,1852 V1928 Q1474,1936 1482,1936 H1558"/>
<path d="M1983,1589 H1770 Q1762,1589 1762,1597 V1619"/>
<path d="M1983,1823 H1894 Q1886,1823 1886,1815 V1809"/>
<path d="M1979,2378 H1756 Q1748,2378 1748,2386 V2482"/>
<path d="M1394,2754 H1474 Q1482,2754 1482,2746 V2587"/>
<path d="M1503,2932 H1560 Q1568,2932 1568,2924 V2643"/>
<path d="M1886,2870 H1793 Q1785,2870 1785,2862 V2648"/>
<path d="M1663,2955 H1662 Q1654,2955 1654,2947 V2784"/>
</g>
<g fill="#444">
<circle cx="516" cy="1635" r="4"/><circle cx="581" cy="1619" r="4"/><circle cx="819" cy="1695" r="4"/><circle cx="704" cy="1638" r="4"/>
<circle cx="505" cy="1785" r="4"/><circle cx="505" cy="1984" r="4"/><circle cx="501" cy="2126" r="4"/>
<circle cx="1571" cy="1648" r="4"/><circle cx="1571" cy="1760" r="4"/><circle cx="1496" cy="1852" r="4"/><circle cx="1558" cy="1936" r="4"/>
<circle cx="1762" cy="1619" r="4"/><circle cx="1886" cy="1809" r="4"/><circle cx="1748" cy="2482" r="4"/><circle cx="1482" cy="2587" r="4"/><circle cx="1568" cy="2643" r="4"/><circle cx="1785" cy="2648" r="4"/><circle cx="1654" cy="2784" r="4"/>
</g>

<rect class="box" x="178" y="1520" width="199" height="108" rx="12"/>
<text class="b" x="188" y="1567">Гол цутгалт</text>
<text class="t" x="188" y="1602">/Бетон/</text>

<rect class="box" x="178" y="1640" width="281" height="281" rx="12"/>
<text class="b" x="184" y="1678">Дулаан шингээгч</text>
<text class="b" x="184" y="1712">болон дээврийн</text>
<text class="b" x="184" y="1747">тусгаарлагч</text>
<text class="t" x="184" y="1794">LOW-E буюу нарны</text>
<text class="t" x="184" y="1829">шууд тусгалыг</text>
<text class="t" x="184" y="1864">бууруулдаг шил</text>
<text class="t" x="184" y="1910">U-2.0 W/m2k, SC 0.4</text>

<rect class="box" x="178" y="1940" width="281" height="151" rx="12"/>
<text class="t" x="184" y="1976">Хамгийн бага</text>
<text class="t" x="184" y="2011">дулаан хадгалалт</text>
<text class="t" x="184" y="2047">болон дулаан</text>
<text class="t" x="184" y="2081">алдалт</text>

<rect class="box" x="178" y="2104" width="281" height="218" rx="12"/>
<text class="t" x="193" y="2159">Нэгдсэн фасад</text>
<text class="t" x="193" y="2193">бат бөх, дахин</text>
<text class="t" x="193" y="2229">боловсруулах</text>
<text class="t" x="193" y="2263">боломжтой</text>
<text class="t" x="193" y="2298">фасад</text>

<rect class="box" x="872" y="1511" width="245" height="607" rx="12"/>
<text class="b" x="884" y="1546">Тосгуур гол</text>
<text class="b" x="884" y="1582">хэсэг</text>
<text class="t" x="884" y="1628">Өдрийн гэрлийг</text>
<text class="t" x="884" y="1663">хамгийн ихээр</text>
<text class="t" x="884" y="1698">оффисын</text>
<text class="t" x="884" y="1733">талбайд болон</text>
<text class="t" x="884" y="1768">гол хэсгээр</text>
<text class="t" x="884" y="1803">нэвтрүүлэх</text>
<text class="t" x="884" y="1838">Цахилгаан</text>
<text class="t" x="884" y="1873">гүйдэл үүсгэх</text>
<text class="t" x="884" y="1907">технологи</text>
<text class="t" x="884" y="1954">Цэвэр эрчим</text>
<text class="t" x="884" y="1990">хүч үйлдвэрлэх</text>
<text class="t" x="884" y="2025">нарны эрчим</text>
<text class="t" x="884" y="2060">хүчний</text>
<text class="t" x="884" y="2096">хавтангууд</text>

<rect class="box" x="1125" y="1511" width="320" height="538" rx="12"/>
<text class="b" x="1137" y="1547">Цэцэрлэгжүүлэх</text>
<text class="t" x="1137" y="1592">Улирлын чанартай</text>
<text class="t" x="1137" y="1628">ургамалуудыг ус бага</text>
<text class="t" x="1137" y="1663">хэрэглэх усалгаагаар</text>
<text class="t" x="1137" y="1698">ургуулах</text>
<text class="b" x="1137" y="1744">Ногоон бүс</text>
<text class="t" x="1137" y="1791">20% Ногоон бүсчлэл</text>
<text class="t" x="1137" y="1826">үүсгэнэ багадаа 1,5 м</text>
<text class="t" x="1137" y="1861">хөрсний гүнтэй</text>
<text class="b" x="1137" y="1909">Унадаг дугуйн хэсэг</text>
<text class="t" x="1137" y="1955">Тээврийн тогтвортой</text>
<text class="t" x="1137" y="1990">байдлыг дэмжих</text>
<text class="t" x="1137" y="2025">2680 орон зай</text>

<rect class="box" x="1983" y="1511" width="283" height="768" rx="12"/>
<text class="b" x="1991" y="1547">Машины зогсоол</text>
<text class="t" x="1991" y="1592">Барилга бүрийн</text>
<text class="t" x="1991" y="1628">тээврийн</text>
<text class="t" x="1991" y="1663">хэрэгслийг илүү</text>
<text class="t" x="1991" y="1698">тохиромжтой</text>
<text class="t" x="1991" y="1733">байдлаар</text>
<text class="t" x="1991" y="1768">зохицуулалт</text>
<text class="t" x="1991" y="1803">хийж зай хэмжээг</text>
<text class="t" x="1991" y="1838">харгалзах,</text>
<text class="t" x="1991" y="1873">электрон болон Hy-</text>
<text class="t" x="1991" y="1907">brid машинуудын</text>
<text class="t" x="1991" y="1943">тэргүүлэх орон зайг</text>
<text class="t" x="1991" y="1978">гаргана.</text>
<text class="b" x="1991" y="2025">Метроны Попап</text>
<text class="t" x="1991" y="2071">Метроны 14,</text>
<text class="t" x="1991" y="2106">16-р шугамтай</text>
<text class="t" x="1991" y="2141">шууд холбогдож,</text>
<text class="t" x="1991" y="2177">тогтвортой</text>
<text class="t" x="1991" y="2211">тээврийн</text>
<text class="t" x="1991" y="2247">хэлбэрийг дэмжинэ</text>

<rect class="box" x="1979" y="2309" width="288" height="221" rx="12"/>
<text class="b" x="1990" y="2344">Усны үр ашиг</text>
<text class="t" x="1990" y="2379">Бага урсгалтай</text>
<text class="t" x="1990" y="2414">төхөөрөмжүүд</text>
<text class="t" x="1990" y="2449">Усны төвлөрөлт</text>
<text class="t" x="1990" y="2484">Бохир усны урсгал</text>
<text class="t" x="1990" y="2518">Усанд хяналт тавих</text>

<rect class="box" x="953" y="2681" width="441" height="146" rx="12"/>
<text class="b" x="981" y="2714">Агаарын чанар</text>
<text class="t" x="981" y="2750">Дэгдэмхий органик</text>
<text class="t" x="981" y="2785">нэгдлүүд (VOC) -ийг багасгах</text>
<text class="t" x="981" y="2819">материалуудыг хэрэглэх</text>

<rect class="box" x="953" y="2838" width="550" height="221" rx="12"/>
<text class="b" x="981" y="2873">Агаар шүүгч</text>
<text class="t" x="981" y="2908">Температур, чийгшил,</text>
<text class="t" x="981" y="2943">нүүрстөрөгчийн давхар ислийн</text>
<text class="t" x="981" y="2978">түвшин болон доторх PM 2.5</text>
<text class="t" x="981" y="3013">тоосонцрыг төвлөрүүлэн  шууд</text>
<text class="t" x="981" y="3048">хянах.</text>

<rect class="box" x="1886" y="2721" width="381" height="187" rx="12"/>
<text class="b" x="1901" y="2755">Гэрэлтүүлгийн хяналт</text>
<text class="t" x="1901" y="2791">Эрчим хүч хэмнэх</text>
<text class="t" x="1901" y="2826">зорилгоор төвлөрсөн</text>
<text class="t" x="1901" y="2860">удирдлагатай гэрэлтүүлэг</text>
<text class="t" x="1901" y="2895">ашиглах</text>

<rect class="box" x="1663" y="2913" width="489" height="146" rx="12"/>
<text class="b" x="1678" y="2945">Идэвхгүй агааржуулалт</text>
<text class="t" x="1678" y="2981">Фасадны хавтан дээрх бүртгэлээр</text>
<text class="t" x="1678" y="3016">дамжуулан нэмэлт байгалийн</text>
<text class="t" x="1678" y="3050">агааржуулалт оруулах</text>
</svg>
</body></html>
